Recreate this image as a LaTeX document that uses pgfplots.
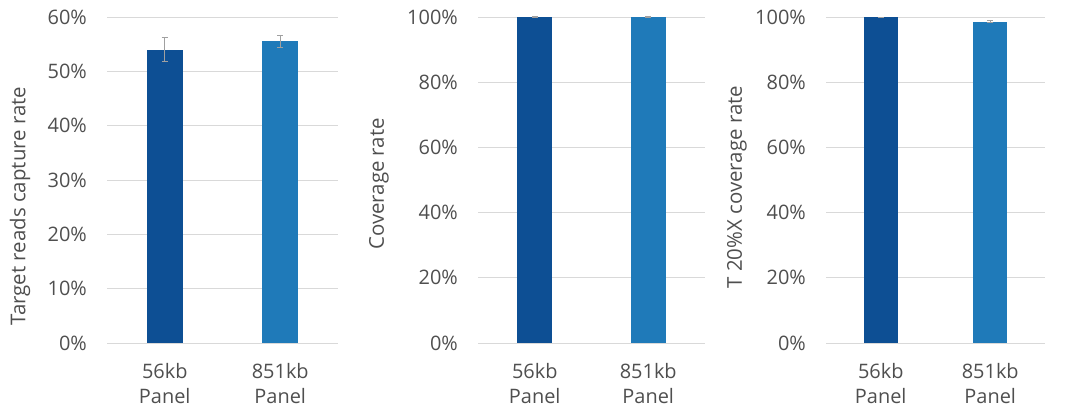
\documentclass[border=0pt]{standalone}
\usepackage{fontspec}
\setmainfont{Open Sans}
\usepackage{pgfplots}
\pgfplotsset{compat=1.18}

\definecolor{darkbar}{HTML}{0D4F94}
\definecolor{lightbar}{HTML}{1F7AB9}
\definecolor{txtgray}{HTML}{4F4F4F}
\definecolor{gridgray}{HTML}{D9D9D9}
\definecolor{errgray}{HTML}{A0A0A0}

\pgfplotsset{
  panel/.style={
    scale only axis,
    height=326bp,
    anchor=south west,
    ymin=0,
    xmin=-0.5, xmax=1.5,
    xtick={0,1},
    xticklabels={{56kb\\Panel},{851kb\\Panel}},
    axis line style={draw=none},
    major tick length=0pt,
    ymajorgrids=true,
    grid style={draw=gridgray, line width=0.8bp},
    clip=false,
    /pgf/number format/assume math mode=true,
    yticklabel={\pgfmathprintnumber{\tick}\%},
    tick label style={font=\fontsize{20}{25}\selectfont, text=txtgray},
    yticklabel style={inner sep=0pt, xshift=-20bp},
    xticklabel style={align=center, inner sep=0pt, yshift=-20bp},
    label style={font=\fontsize{20.5}{24}\selectfont, text=txtgray},
    ybar, bar width=0.31, bar shift=0pt,
    error bars/y dir=both, error bars/y explicit,
    error bars/error bar style={errgray, line width=1bp},
    error bars/error mark options={errgray, rotate=90, mark size=3bp, line width=1bp},
  },
}

\begin{document}
\begin{tikzpicture}
\path[use as bounding box] (0bp,0bp) rectangle (1080bp,413bp);

% panel 1: capture rate
\begin{axis}[panel, at={(107bp,70bp)}, width=231bp,
    ymax=60, ytick={0,10,...,60},
    ylabel={Target reads capture rate},
    ylabel style={at={(rel axis cs:0,0.42)}, anchor=center, yshift=87bp}]
\addplot[fill=darkbar, draw=none] coordinates {(0,54.0) +- (0,2.25)};
\addplot[fill=lightbar, draw=none] coordinates {(1,55.5) +- (0,1.05)};
\end{axis}

% panel 2: coverage rate
\begin{axis}[panel, at={(478bp,70bp)}, width=227bp,
    ymax=100, ytick={0,20,...,100},
    ylabel={Coverage rate},
    ylabel style={at={(rel axis cs:0,0.488)}, anchor=center, yshift=99bp}]
\addplot[fill=darkbar, draw=none] coordinates {(0,100) +- (0,0.05)};
\addplot[fill=lightbar, draw=none] coordinates {(1,99.9) +- (0,0.1)};
\end{axis}

% panel 3: T 20%X coverage rate
\begin{axis}[panel, at={(826bp,70bp)}, width=219bp,
    ymax=100, ytick={0,20,...,100},
    ylabel={T 20\%X coverage rate},
    ylabel style={at={(rel axis cs:0,0.478)}, anchor=center, yshift=89bp}]
\addplot[fill=darkbar, draw=none] coordinates {(0,99.9) +- (0,0.05)};
\addplot[fill=lightbar, draw=none] coordinates {(1,98.6) +- (0,0.2)};
\end{axis}
\end{tikzpicture}
\end{document}
